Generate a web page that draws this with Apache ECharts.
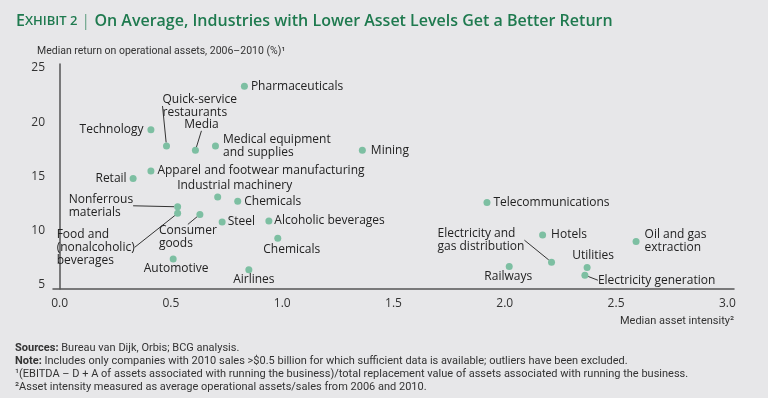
<!DOCTYPE html>
<html>
<head>
<meta charset="utf-8">
<script src="https://cdn.jsdelivr.net/npm/echarts@6/dist/echarts.min.js"></script>
<style>
  html, body { margin: 0; padding: 0; background: #e7e7e9; }
  #chart { width: 768px; height: 398px; }
</style>
</head>
<body>
<div id="chart"></div>
<script>
// data
var industries = [
  "Pharmaceuticals", "Technology", "Quick-service\nrestaurants", "Media",
  "Medical equipment\nand supplies", "Mining", "Apparel and footwear manufacturing", "Retail",
  "Industrial machinery", "Chemicals", "Nonferrous\nmaterials", "Food and\n(nonalcoholic)\nbeverages",
  "Consumer\ngoods", "Steel", "Alcoholic beverages", "Chemicals",
  "Automotive", "Airlines", "Telecommunications", "Hotels",
  "Electricity and\ngas distribution", "Railways", "Utilities", "Electricity generation",
  "Oil and gas\nextraction"
];
var assetIntensity = [
  0.83, 0.41, 0.48, 0.61,
  0.70, 1.36, 0.41, 0.33,
  0.71, 0.80, 0.53, 0.53,
  0.63, 0.73, 0.94, 0.98,
  0.51, 0.85, 1.92, 2.17,
  2.21, 2.02, 2.37, 2.36,
  2.59
];
var returnOnAssets = [
  23.3, 19.3, 17.8, 17.4,
  17.8, 17.4, 15.5, 14.8,
  13.1, 12.7, 12.2, 11.6,
  11.5, 10.8, 10.9, 9.3,
  7.4, 6.4, 12.6, 9.6,
  7.1, 6.7, 6.6, 5.9,
  9.0
];
var xTicks = [0, 0.5, 1.0, 1.5, 2.0, 2.5, 3.0];
var yTicks = [5, 10, 15, 20, 25];

// where each label sits next to its dot (pixels), and which ones get a leader line
var labelPlace = [
  {pos: "right", d: 3}, {pos: "left", d: 4}, {off: [-4, -40], align: "left", line: true}, {off: [6, -26], align: "center", line: true},
  {pos: "right", d: 4}, {pos: "right", d: 5}, {pos: "right", d: 3}, {pos: "left", d: 3},
  {off: [17, -11], align: "center"}, {pos: "right", d: 3}, {off: [-109, -1], align: "left", line: true}, {off: [-121, 34], align: "left", line: true},
  {off: [-41, 23], align: "left", line: true}, {pos: "right", d: 2}, {pos: "right", d: 2}, {off: [14, 11], align: "center"},
  {off: [3, 10], align: "center"}, {off: [5, 10], align: "center"}, {pos: "right", d: 3}, {pos: "right", d: 5},
  {off: [-114, -22], align: "left", line: true}, {off: [-1, 10], align: "center"}, {off: [6, -12], align: "center"}, {off: [13, 5], align: "left", line: true},
  {pos: "right", d: 5}
];

var seriesData = industries.map(function (name, i) {
  var p = labelPlace[i];
  var label = p.pos
    ? {position: p.pos, distance: p.d}
    : {position: "inside", align: p.align, verticalAlign: "middle", offset: p.off};
  return {
    name: name,
    value: [assetIntensity[i], returnOnAssets[i]],
    label: label,
    labelLine: {show: !!p.line}
  };
});

var noteFont = "Roboto";

var chart = echarts.init(document.getElementById("chart"));
chart.setOption({
  backgroundColor: "#e7e7e9",
  animation: false,
  title: [
    {
      left: 11, top: 8,
      text: "{e|E}{ex|XHIBIT 2}{bar| | }{t|On Average, Industries with Lower Asset Levels Get a Better Return}",
      textStyle: {
        rich: {
          e: {fontFamily: "Open Sans", fontSize: 16, fontWeight: 600, color: "#1f7a4f"},
          ex: {fontFamily: "Open Sans", fontSize: 13, fontWeight: 600, color: "#1f7a4f"},
          bar: {fontFamily: "Open Sans", fontSize: 16, fontWeight: 300, color: "#1f7a4f"},
          t: {fontFamily: "Open Sans", fontSize: 16, fontWeight: 600, color: "#1f7a4f"}
        }
      }
    },
    {
      left: 32, top: 41,
      text: "Median return on operational assets, 2006–2010 (%)¹",
      textStyle: {fontFamily: noteFont, fontSize: 10.5, fontWeight: "normal", color: "#333"}
    },
    {
      left: 10, top: 337,
      text: "{b|Sources:} Bureau van Dijk, Orbis; BCG analysis.\n" +
        "{b|Note:} Includes only companies with 2010 sales >$0.5 billion for which sufficient data is available; outliers have been excluded.\n" +
        "¹(EBITDA – D + A of assets associated with running the business)/total replacement value of assets associated with running the business.\n" +
        "²Asset intensity measured as average operational assets/sales from 2006 and 2010.",
      textStyle: {
        fontFamily: noteFont, fontSize: 11, fontWeight: "normal", color: "#333", lineHeight: 13,
        rich: {
          b: {fontFamily: noteFont, fontSize: 11, fontWeight: "bold", color: "#333", lineHeight: 13}
        }
      }
    }
  ],
  grid: {left: 53, right: 34, top: 64, bottom: 109},
  xAxis: {
    type: "value",
    min: -0.03,
    max: 3.03,
    name: "Median asset intensity²",
    nameLocation: "end",
    nameGap: 0,
    nameTextStyle: {
      fontFamily: noteFont, fontSize: 11, color: "#333",
      align: "right", verticalAlign: "top", padding: [27, 0, 0, 0]
    },
    axisLine: {lineStyle: {color: "#555", width: 1.5}},
    axisTick: {show: false},
    splitLine: {show: false},
    axisLabel: {
      customValues: xTicks,
      formatter: function (v) { return v.toFixed(1); },
      fontFamily: "Open Sans", fontSize: 12, color: "#333", margin: 9
    }
  },
  yAxis: {
    type: "value",
    min: 4.63,
    max: 25.35,
    axisLine: {show: true, lineStyle: {color: "#555", width: 1.5}},
    axisTick: {show: false},
    splitLine: {show: false},
    axisLabel: {
      customValues: yTicks,
      fontFamily: "Open Sans", fontSize: 12, color: "#333", margin: 8
    }
  },
  series: [{
    type: "scatter",
    symbolSize: 7,
    itemStyle: {color: "#7dbfa2", opacity: 1},
    label: {
      show: true,
      formatter: "{b}",
      fontFamily: "Open Sans", fontSize: 12, color: "#222", lineHeight: 13
    },
    labelLine: {lineStyle: {color: "#333", width: 1}},
    emphasis: {disabled: true},
    data: seriesData
  }]
});
</script>
</body>
</html>
